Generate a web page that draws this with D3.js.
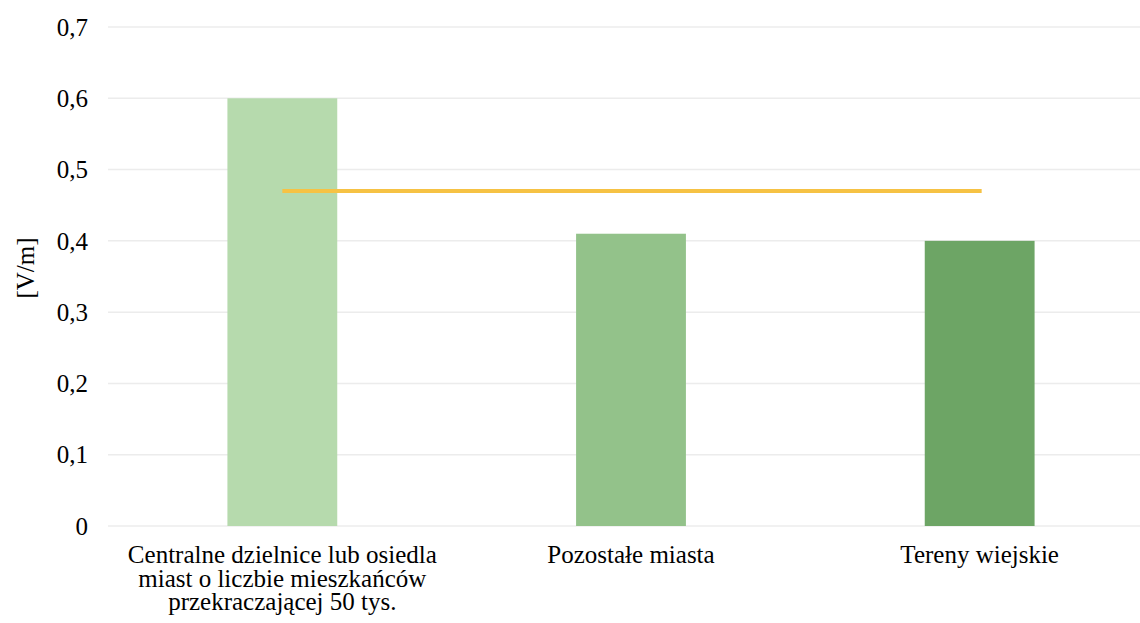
<!DOCTYPE html>
<html><head><meta charset="utf-8">
<script src="https://cdn.jsdelivr.net/npm/d3@7"></script>
<style>body{margin:0;background:#fff}</style>
</head><body>
<script>
const categories = [
  ["Centralne dzielnice lub osiedla", "miast o liczbie mieszkańców", "przekraczającej 50 tys."],
  ["Pozostałe miasta"],
  ["Tereny wiejskie"]
];
const values = [0.60, 0.41, 0.40];
const lineValue = 0.47;
const yTicks = [0, 0.1, 0.2, 0.3, 0.4, 0.5, 0.6, 0.7];
const tickLabels = ["0", "0,1", "0,2", "0,3", "0,4", "0,5", "0,6", "0,7"];
const barColors = ["#b6daad", "#93c28a", "#6da565"];

const W = 1140, H = 623;
const FS = 25;
const svg = d3.select("body").append("svg").attr("width", W).attr("height", H);

const y = d3.scaleLinear().domain([0, 0.7]).range([526, 27]);
const x = d3.scaleBand().domain(d3.range(categories.length)).range([108, 1154]).paddingInner(0.685).paddingOuter(0.3425);

// gridlines
svg.append("g").selectAll("line").data(yTicks).join("line")
  .attr("x1", 108).attr("x2", W)
  .attr("y1", d => y(d)).attr("y2", d => y(d))
  .attr("stroke", "#ececec").attr("stroke-width", 1.5);

function anchor(sel, ax, k) {
  sel.each(function(d, i) {
    const w = this.getComputedTextLength();
    d3.select(this).attr("x", ax(d, i) - w * k);
  });
}

// y tick labels
const ticks = svg.append("g").selectAll("text").data(yTicks).join("text")
  .attr("y", d => y(d) + FS * 0.35)
  .style("font-size", FS + "px")
  .text((d, i) => tickLabels[i]);
anchor(ticks, () => 88, 1);

// y label
const yl = svg.append("text")
  .attr("transform", "translate(25,268) rotate(-90)")
  .attr("y", FS * 0.35)
  .style("font-size", FS + "px")
  .text("[V/m]");
anchor(yl, () => 0, 0.5);

// bars
svg.append("g").selectAll("rect").data(values).join("rect")
  .attr("x", (d, i) => x(i)).attr("width", x.bandwidth())
  .attr("y", d => y(d)).attr("height", d => y(0) - y(d))
  .attr("fill", (d, i) => barColors[i]);

// reference line
svg.append("line")
  .attr("x1", x(0) + x.bandwidth() / 2).attr("x2", x(2) + x.bandwidth() / 2 + 2)
  .attr("y1", y(lineValue)).attr("y2", y(lineValue))
  .attr("stroke", "#f6c244").attr("stroke-width", 4);

// category labels
const labelRows = [];
categories.forEach((lines, i) => lines.forEach((l, j) => labelRows.push({i, j, l})));
const labs = svg.append("g").selectAll("text").data(labelRows).join("text")
  .attr("y", d => 563 + d.j * 23.5)
  .style("font-size", FS + "px")
  .text(d => d.l);
anchor(labs, d => x(d.i) + x.bandwidth() / 2, 0.5);
</script>
</body></html>
